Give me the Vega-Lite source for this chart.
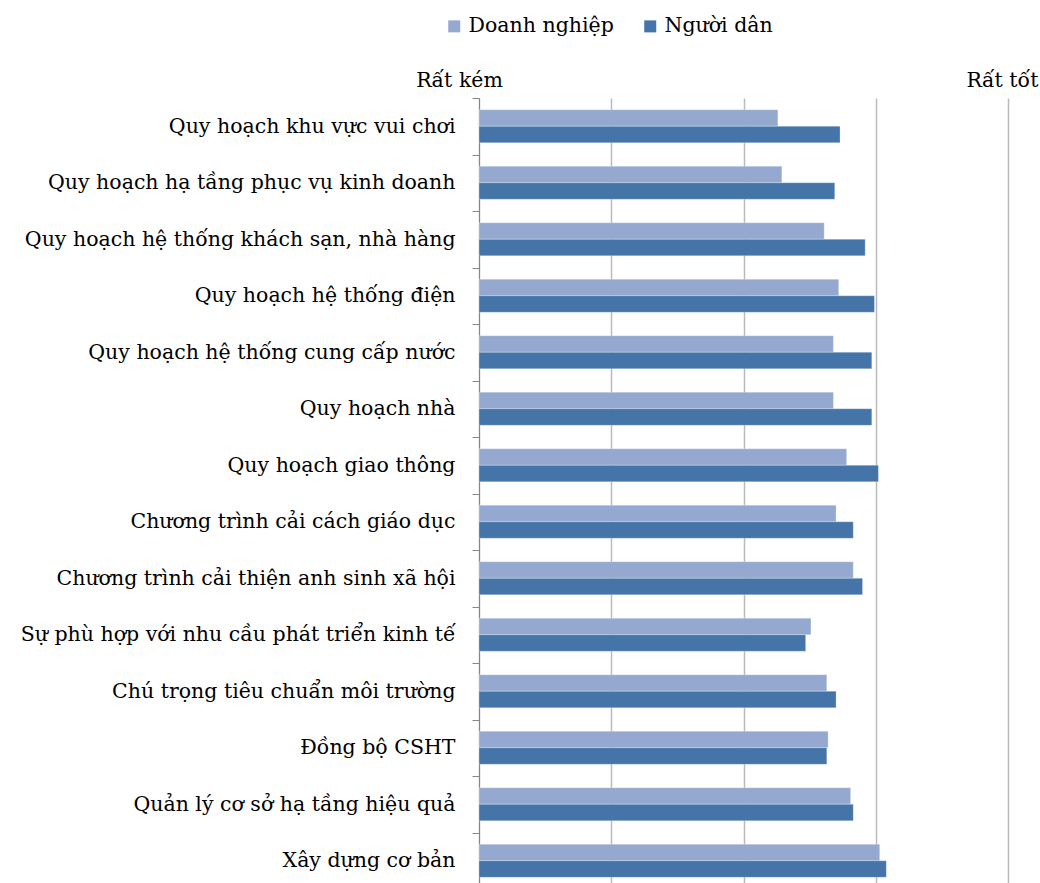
{
  "$schema": "https://vega.github.io/schema/vega-lite/v6.json",
  "autosize": "none",
  "padding": {"left": 479, "top": 98, "right": 32, "bottom": 0},
  "width": 529,
  "height": 791,
  "background": "white",
  "config": {
    "view": {"stroke": null},
    "font": "DejaVu Serif"
  },
  "data": {
    "values": [
      {"cat": "Quy hoạch khu vực vui chơi", "series": "Doanh nghiệp", "v": 3.26},
      {"cat": "Quy hoạch khu vực vui chơi", "series": "Người dân", "v": 3.73},
      {"cat": "Quy hoạch hạ tầng phục vụ kinh doanh", "series": "Doanh nghiệp", "v": 3.29},
      {"cat": "Quy hoạch hạ tầng phục vụ kinh doanh", "series": "Người dân", "v": 3.69},
      {"cat": "Quy hoạch hệ thống khách sạn, nhà hàng", "series": "Doanh nghiệp", "v": 3.61},
      {"cat": "Quy hoạch hệ thống khách sạn, nhà hàng", "series": "Người dân", "v": 3.92},
      {"cat": "Quy hoạch hệ thống điện", "series": "Doanh nghiệp", "v": 3.72},
      {"cat": "Quy hoạch hệ thống điện", "series": "Người dân", "v": 3.99},
      {"cat": "Quy hoạch hệ thống cung cấp nước", "series": "Doanh nghiệp", "v": 3.68},
      {"cat": "Quy hoạch hệ thống cung cấp nước", "series": "Người dân", "v": 3.97},
      {"cat": "Quy hoạch nhà", "series": "Doanh nghiệp", "v": 3.68},
      {"cat": "Quy hoạch nhà", "series": "Người dân", "v": 3.97},
      {"cat": "Quy hoạch giao thông", "series": "Doanh nghiệp", "v": 3.78},
      {"cat": "Quy hoạch giao thông", "series": "Người dân", "v": 4.02},
      {"cat": "Chương trình cải cách giáo dục", "series": "Doanh nghiệp", "v": 3.70},
      {"cat": "Chương trình cải cách giáo dục", "series": "Người dân", "v": 3.83},
      {"cat": "Chương trình cải thiện anh sinh xã hội", "series": "Doanh nghiệp", "v": 3.83},
      {"cat": "Chương trình cải thiện anh sinh xã hội", "series": "Người dân", "v": 3.90},
      {"cat": "Sự phù hợp với nhu cầu phát triển kinh tế", "series": "Doanh nghiệp", "v": 3.51},
      {"cat": "Sự phù hợp với nhu cầu phát triển kinh tế", "series": "Người dân", "v": 3.47},
      {"cat": "Chú trọng tiêu chuẩn môi trường", "series": "Doanh nghiệp", "v": 3.63},
      {"cat": "Chú trọng tiêu chuẩn môi trường", "series": "Người dân", "v": 3.70},
      {"cat": "Đồng bộ CSHT", "series": "Doanh nghiệp", "v": 3.64},
      {"cat": "Đồng bộ CSHT", "series": "Người dân", "v": 3.63},
      {"cat": "Quản lý cơ sở hạ tầng hiệu quả", "series": "Doanh nghiệp", "v": 3.81},
      {"cat": "Quản lý cơ sở hạ tầng hiệu quả", "series": "Người dân", "v": 3.83},
      {"cat": "Xây dựng cơ bản", "series": "Doanh nghiệp", "v": 4.03},
      {"cat": "Xây dựng cơ bản", "series": "Người dân", "v": 4.08}
    ]
  },
  "mark": {"type": "bar", "stroke": "#ffffff", "strokeOpacity": 0.35, "strokeWidth": 0.8},
  "encoding": {
    "y": {
      "field": "cat",
      "type": "nominal",
      "sort": null,
      "title": null,
      "scale": {"paddingInner": 0, "paddingOuter": 0},
      "axis": {
        "tickBand": "extent",
        "domainColor": "#868686",
        "tickColor": "#868686",
        "tickSize": 7,
        "labelPadding": 17,
        "labelFontSize": 20.5,
        "labelColor": "#000000",
        "labelLimit": 500,
        "grid": false
      }
    },
    "yOffset": {
      "field": "series",
      "type": "nominal",
      "sort": ["Doanh nghiệp", "Người dân"],
      "scale": {"paddingInner": 0, "paddingOuter": 0.71}
    },
    "x": {
      "field": "v",
      "type": "quantitative",
      "title": null,
      "scale": {"domain": [1, 5], "nice": false, "zero": false},
      "axis": {
        "orient": "top",
        "values": [1, 2, 3, 4, 5],
        "labelExpr": "datum.value == 1 ? 'Rất kém' : (datum.value == 5 ? 'Rất tốt' : '')",
        "labelFlush": false,
        "labelAlign": "center",
        "labelOffset": {"condition": {"test": "datum.value == 1", "value": -20}, "value": -6},
        "labelBaseline": "alphabetic",
        "labelPadding": 12,
        "labelFontSize": 20.5,
        "labelColor": "#000000",
        "ticks": false,
        "tickSize": 0,
        "domain": false,
        "grid": true,
        "gridColor": "#BABABA",
        "gridWidth": 1.5
      }
    },
    "x2": {"datum": 1},
    "color": {
      "field": "series",
      "type": "nominal",
      "sort": ["Doanh nghiệp", "Người dân"],
      "scale": {"domain": ["Doanh nghiệp", "Người dân"], "range": ["#95A9D0", "#4574A8"]},
      "legend": {
        "title": null,
        "orient": "none",
        "direction": "horizontal",
        "legendX": -35,
        "legendY": -82,
        "symbolType": "square",
        "symbolSize": 144,
        "symbolStrokeWidth": 0,
        "labelFontSize": 20.5,
        "labelColor": "#000000",
        "labelOffset": 4,
        "columnPadding": 26,
        "padding": 0
      }
    }
  }
}
